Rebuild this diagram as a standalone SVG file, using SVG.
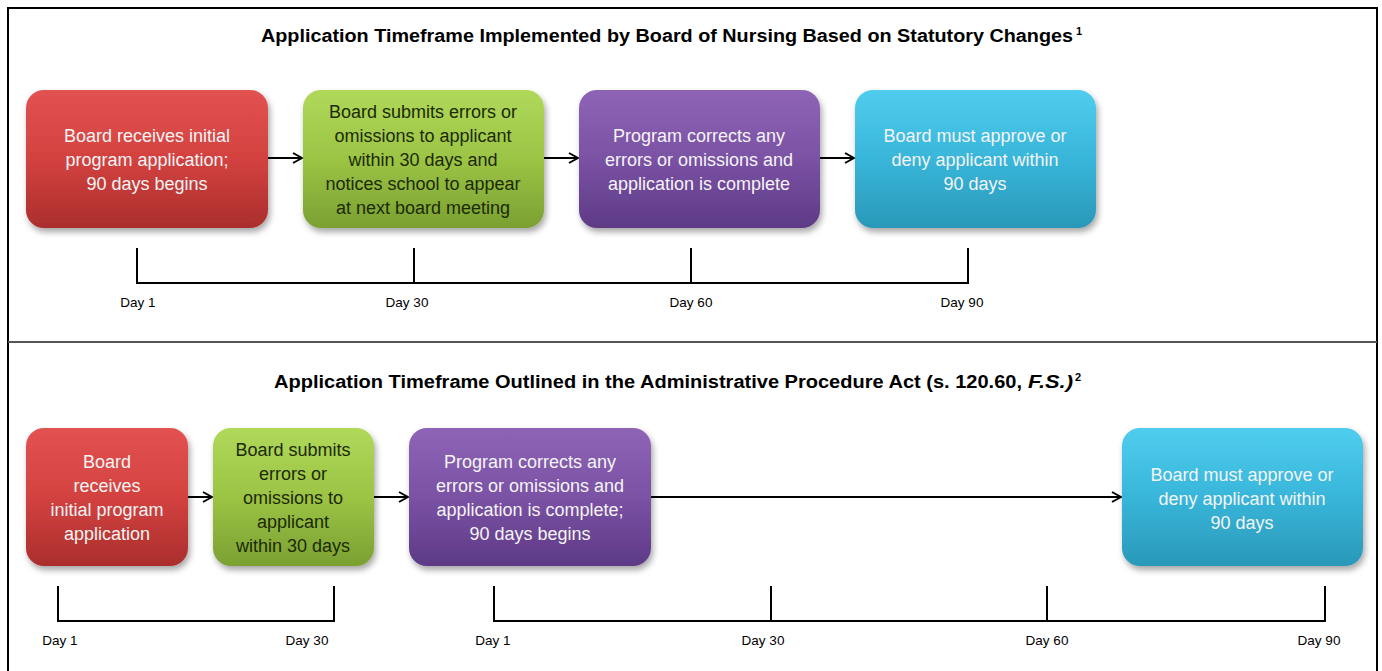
<svg xmlns="http://www.w3.org/2000/svg" width="1382" height="671" viewBox="0 0 1382 671">
<style>
.title{font-family:"Liberation Sans",Arial,sans-serif;font-weight:bold;font-size:18px;fill:#000}
.sup{font-family:"Liberation Sans",Arial,sans-serif;font-weight:bold;font-size:11px;fill:#000}
.t{font-family:"Liberation Sans",Arial,sans-serif;font-size:18px;fill:#f4f4f4;text-anchor:middle}
.tg{font-family:"Liberation Sans",Arial,sans-serif;font-size:18px;fill:#1c2a05;text-anchor:middle}
.day{font-family:"Liberation Sans",Arial,sans-serif;font-size:13.5px;fill:#000;text-anchor:middle}
.ln{stroke:#000;stroke-width:2;fill:none}
.ar{stroke:#000;stroke-width:2;fill:none;marker-end:url(#ah)}
</style>
<defs>
<linearGradient id="gr" x1="0" y1="0" x2="0" y2="1"><stop offset="0" stop-color="#e25250"/><stop offset="0.5" stop-color="#d34240"/><stop offset="1" stop-color="#aa2e2c"/></linearGradient>
<linearGradient id="gg" x1="0" y1="0" x2="0" y2="1"><stop offset="0" stop-color="#b0d85a"/><stop offset="0.5" stop-color="#9cc444"/><stop offset="1" stop-color="#7aa032"/></linearGradient>
<linearGradient id="gp" x1="0" y1="0" x2="0" y2="1"><stop offset="0" stop-color="#8e64b6"/><stop offset="0.5" stop-color="#7a52a4"/><stop offset="1" stop-color="#5e3a86"/></linearGradient>
<linearGradient id="gc" x1="0" y1="0" x2="0" y2="1"><stop offset="0" stop-color="#50cdee"/><stop offset="0.5" stop-color="#38b6da"/><stop offset="1" stop-color="#2a98b8"/></linearGradient>
<filter id="sh" x="-10%" y="-10%" width="125%" height="130%"><feDropShadow dx="2" dy="4" stdDeviation="3" flood-color="#000" flood-opacity="0.35"/></filter>
<marker id="ah" viewBox="0 0 12 12" refX="11" refY="6" markerWidth="12" markerHeight="12" markerUnits="userSpaceOnUse" orient="auto"><path d="M2,1 L11,6 L2,11" fill="none" stroke="#000" stroke-width="2"/></marker>
</defs>
<rect x="0" y="0" width="1382" height="671" fill="#fff"/>
<rect x="8" y="8" width="1369" height="680" fill="#fff" stroke="#000" stroke-width="2"/>
<line x1="8" y1="342" x2="1377" y2="342" stroke="#555" stroke-width="2"/>

<text class="title" x="261" y="42" textLength="812" lengthAdjust="spacingAndGlyphs">Application Timeframe Implemented by Board of Nursing Based on Statutory Changes</text>
<text class="sup" x="1076" y="35">1</text>
<text class="title" x="274" y="388" textLength="748" lengthAdjust="spacingAndGlyphs">Application Timeframe Outlined in the Administrative Procedure Act (s. 120.60,</text>
<text class="title" x="1028" y="388" font-style="italic" textLength="45" lengthAdjust="spacingAndGlyphs">F.S.)</text>
<text class="sup" x="1075" y="381">2</text>

<g id="connectors">
<line class="ar" x1="268" y1="158" x2="302" y2="158"/>
<line class="ar" x1="544" y1="158" x2="578" y2="158"/>
<line class="ar" x1="820" y1="158" x2="854" y2="158"/>
<line class="ar" x1="188" y1="497" x2="212" y2="497"/>
<line class="ar" x1="374" y1="497" x2="408" y2="497"/>
<line class="ar" x1="651" y1="497" x2="1121" y2="497"/>
</g>

<g id="top-red"><rect x="26" y="90" width="242" height="138" rx="18" fill="url(#gr)" filter="url(#sh)"/>
<text class="t" x="147" y="142">Board receives initial</text><text class="t" x="147" y="166">program application;</text><text class="t" x="147" y="190">90 days begins</text></g>
<g id="top-green"><rect x="303" y="90" width="241" height="138" rx="18" fill="url(#gg)" filter="url(#sh)"/>
<text class="tg" x="423" y="118">Board submits errors or</text><text class="tg" x="423" y="142">omissions to applicant</text><text class="tg" x="423" y="166">within 30 days and</text><text class="tg" x="423" y="190">notices school to appear</text><text class="tg" x="423" y="214">at next board meeting</text></g>
<g id="top-purple"><rect x="579" y="90" width="241" height="138" rx="18" fill="url(#gp)" filter="url(#sh)"/>
<text class="t" x="699" y="142">Program corrects any</text><text class="t" x="699" y="166">errors or omissions and</text><text class="t" x="699" y="190">application is complete</text></g>
<g id="top-cyan"><rect x="855" y="90" width="241" height="138" rx="18" fill="url(#gc)" filter="url(#sh)"/>
<text class="t" x="975" y="142">Board must approve or</text><text class="t" x="975" y="166">deny applicant within</text><text class="t" x="975" y="190">90 days</text></g>

<g id="bot-red"><rect x="26" y="428" width="162" height="138" rx="18" fill="url(#gr)" filter="url(#sh)"/>
<text class="t" x="107" y="468">Board</text><text class="t" x="107" y="492">receives</text><text class="t" x="107" y="516">initial program</text><text class="t" x="107" y="540">application</text></g>
<g id="bot-green"><rect x="213" y="428" width="161" height="138" rx="18" fill="url(#gg)" filter="url(#sh)"/>
<text class="tg" x="293" y="456">Board submits</text><text class="tg" x="293" y="480">errors or</text><text class="tg" x="293" y="504">omissions to</text><text class="tg" x="293" y="528">applicant</text><text class="tg" x="293" y="552">within 30 days</text></g>
<g id="bot-purple"><rect x="409" y="428" width="242" height="138" rx="18" fill="url(#gp)" filter="url(#sh)"/>
<text class="t" x="530" y="468">Program corrects any</text><text class="t" x="530" y="492">errors or omissions and</text><text class="t" x="530" y="516">application is complete;</text><text class="t" x="530" y="540">90 days begins</text></g>
<g id="bot-cyan"><rect x="1122" y="428" width="241" height="138" rx="18" fill="url(#gc)" filter="url(#sh)"/>
<text class="t" x="1242" y="481">Board must approve or</text><text class="t" x="1242" y="505">deny applicant within</text><text class="t" x="1242" y="529">90 days</text></g>

<g id="timeline-top">
<path class="ln" d="M137,248 V283 H968 V248 M414,248 V283 M691,248 V283"/>
<text class="day" x="138" y="307">Day 1</text><text class="day" x="407" y="307">Day 30</text><text class="day" x="691" y="307">Day 60</text><text class="day" x="962" y="307">Day 90</text>
</g>
<g id="timeline-bottom">
<path class="ln" d="M58,586 V621 H334 V586"/>
<path class="ln" d="M494,586 V621 H1325 V586 M771,586 V621 M1047,586 V621"/>
<text class="day" x="60" y="645">Day 1</text><text class="day" x="307" y="645">Day 30</text><text class="day" x="493" y="645">Day 1</text><text class="day" x="763" y="645">Day 30</text><text class="day" x="1047" y="645">Day 60</text><text class="day" x="1319" y="645">Day 90</text>
</g>
</svg>
